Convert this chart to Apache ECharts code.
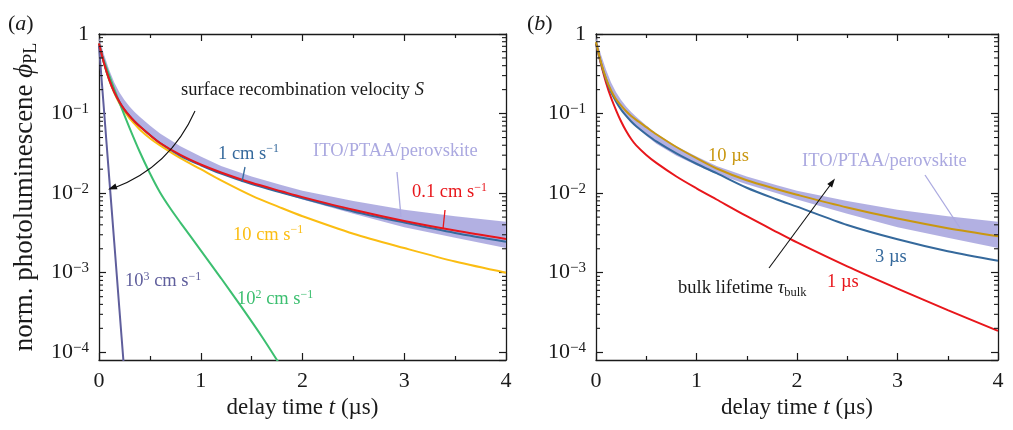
<!DOCTYPE html>
<html><head><meta charset="utf-8">
<script src="https://cdn.jsdelivr.net/npm/echarts@6/dist/echarts.min.js"></script>
<style>html,body{margin:0;padding:0;background:#fff}#c{width:1013px;height:430px}</style>
</head><body><div id="c"></div>
<script>
// ---------------- data ----------------
// panel (a): surface recombination velocity
const tA      = [0,0.05,0.1,0.15,0.2,0.25,0.3,0.35,0.4,0.5,0.6,0.8,1.0,1.2,1.5,1.8,2.0,2.5,3.0,3.5,4.0];
const aS01    = [0.759,0.427,0.269,0.186,0.141,0.112,0.0933,0.0794,0.0692,0.0537,0.0427,0.0302,0.0229,0.0182,0.0135,0.0105,0.00891,0.00617,0.00447,0.00339,0.00266];
const aS1     = [0.759,0.427,0.269,0.186,0.141,0.112,0.0933,0.0794,0.0692,0.0537,0.0427,0.0295,0.0224,0.0176,0.0130,0.0101,0.00861,0.00589,0.00427,0.00316,0.00245];
const aS10    = [0.759,0.427,0.263,0.182,0.135,0.107,0.0871,0.0741,0.0631,0.0490,0.0398,0.0275,0.0200,0.0145,0.00933,0.00646,0.00513,0.00309,0.00204,0.00138,0.00100];
const tA100   = [0,0.05,0.1,0.2,0.3,0.4,0.5,0.6,0.7,0.8,1.0,1.2,1.4,1.6,1.8];
const aS100   = [0.708,0.457,0.302,0.138,0.0661,0.0331,0.0178,0.0102,0.00646,0.00427,0.00191,0.000851,0.000372,0.000158,0.0000631];
const tA1000  = [0,0.05,0.1,0.15,0.2,0.25];
const aS1000  = [0.708,0.107,0.0158,0.0024,0.000355,0.0000537];
// panel (b): bulk lifetime
const tB      = [0,0.05,0.1,0.15,0.2,0.25,0.3,0.35,0.4,0.5,0.6,0.8,1.0,1.2,1.5,1.8,2.0,2.5,3.0,3.5,4.0];
const bTau1   = [0.759,0.417,0.245,0.158,0.110,0.0794,0.0603,0.0479,0.0398,0.0302,0.0240,0.0162,0.0115,0.00832,0.00513,0.00324,0.00240,0.00120,0.000631,0.000339,0.000186];
const bTau3   = [0.759,0.427,0.269,0.186,0.141,0.112,0.0933,0.0794,0.0692,0.0550,0.0447,0.0316,0.0234,0.0178,0.0117,0.00832,0.00676,0.00398,0.00263,0.00186,0.00141];
const bTau10  = [0.794,0.437,0.275,0.195,0.151,0.126,0.107,0.0933,0.0832,0.0676,0.0550,0.0380,0.0275,0.0204,0.0145,0.0112,0.00955,0.00661,0.00479,0.00363,0.00288];
// measured ITO/PTAA/perovskite transient (envelope of the noisy trace)
const tData     = [0,0.05,0.1,0.15,0.2,0.25,0.3,0.35,0.4,0.5,0.6,0.8,1.0,1.2,1.5,1.8,2.0,2.5,3.0,3.5,4.0];
const dataUpper = [0.912,0.550,0.355,0.245,0.186,0.148,0.123,0.105,0.0912,0.0708,0.0562,0.0389,0.0288,0.0219,0.0162,0.0126,0.0107,0.00794,0.00617,0.00513,0.00437];
const dataLower = [0.724,0.417,0.263,0.182,0.138,0.110,0.0912,0.0776,0.0676,0.0525,0.0417,0.0295,0.0224,0.0174,0.0129,0.0100,0.00832,0.00550,0.00372,0.00275,0.00204];
// axis ranges / ticks
const xMin = 0, xMax = 4, xInterval = 1;
const yMin = 8e-5, yMax = 1;

// ---------------- styling ----------------
const FONT = 'Liberation Serif';
const AX = '#1a1a1a';
const C = {red:'#e8161b', blue:'#35699c', yellow:'#fbbd12', gold:'#c99710', green:'#3cbf70', purple:'#5f5e9c', lav:'#aba9e0'};

const minorVals = [];
for (let e = -4; e <= -1; e++) for (let k = 2; k <= 9; k++) minorVals.push(k * Math.pow(10, e));

function xAxes() {
  const base = {type:'value', min:xMin, max:xMax, interval:xInterval,
    axisLine:{show:true, onZero:false, lineStyle:{color:AX, width:1.3}},
    axisTick:{show:true, inside:true, length:7, lineStyle:{color:AX, width:1.2}},
    minorTick:{show:true, splitNumber:2, length:4, lineStyle:{color:AX, width:1.2}},
    splitLine:{show:false}, minorSplitLine:{show:false}};
  return [
    Object.assign({}, base, {position:'bottom',
      axisLabel:{fontFamily:FONT, fontSize:22, color:AX, margin:10},
      name:'delay time {i|t} (µs)', nameLocation:'middle', nameGap:34,
      nameTextStyle:{fontFamily:FONT, fontSize:23, color:AX,
        rich:{i:{fontFamily:FONT, fontSize:23, fontStyle:'italic', color:AX}}}}),
    Object.assign({}, base, {position:'top', axisLabel:{show:false}})
  ];
}
function yLabel(v) {
  const l = Math.log10(v), n = Math.round(l);
  if (Math.abs(l - n) > 0.01) return '';
  if (n === 0) return '{b|1}';
  return '{b|10}{s|−' + (-n) + '}';
}
function yAxes(withName) {
  const base = {type:'log', logBase:10, min:yMin, max:yMax,
    axisLine:{show:true, onZero:false, lineStyle:{color:AX, width:1.3}},
    axisTick:{show:true, inside:true, length:7, lineStyle:{color:AX, width:1.2}},
    minorTick:{show:false}, splitLine:{show:false}};
  const left = Object.assign({}, base, {position:'left',
    axisLabel:{formatter:yLabel, margin:10, showMinLabel:false,
      rich:{b:{fontFamily:FONT, fontSize:22, color:AX, lineHeight:24},
            s:{fontFamily:FONT, fontSize:15, color:AX, verticalAlign:'top', lineHeight:14}}}});
  if (withName) Object.assign(left, {
    name:'norm. photoluminescene {i|ϕ}{sub|PL}', nameLocation:'middle', nameGap:59, nameRotate:90,
    nameTextStyle:{fontFamily:FONT, fontSize:27, color:AX,
      rich:{i:{fontFamily:FONT, fontSize:27, fontStyle:'italic', color:AX, lineHeight:30},
            sub:{fontFamily:FONT, fontSize:18, color:AX, verticalAlign:'bottom', lineHeight:16}}}});
  const right = Object.assign({}, base, {position:'right', axisLabel:{show:false}});
  return [left, right];
}
function lineS(xi, T, V, color, z) {
  return {type:'line', xAxisIndex:xi, yAxisIndex:xi, data:T.map((t,i)=>[t, V[i]]),
    symbol:'none', showSymbol:false, smooth:0.3, clip:true, silent:true, z:z,
    lineStyle:{color:color, width:2}};
}
function bandS(xi) {
  return {type:'custom', xAxisIndex:xi, yAxisIndex:xi, silent:true, clip:true, z:1,
    data:[[tData[0], dataUpper[0]]],
    renderItem:(params, api) => {
      const pts = [];
      for (let i = 0; i < tData.length; i++) pts.push(api.coord([tData[i], dataUpper[i]]));
      for (let i = tData.length - 1; i >= 0; i--) pts.push(api.coord([tData[i], dataLower[i]]));
      return {type:'polygon', shape:{points:pts}, style:{fill:C.lav, opacity:0.92}};
    }};
}
function minorS(xi) {
  return {type:'custom', xAxisIndex:xi, yAxisIndex:xi, silent:true, clip:false, z:10,
    data:minorVals.map(v => [xMin, v]),
    renderItem:(params, api) => {
      const v = api.value(1);
      const p0 = api.coord([xMin, v]), p1 = api.coord([xMax, v]);
      return {type:'group', children:[
        {type:'line', shape:{x1:p0[0], y1:p0[1], x2:p0[0]+4, y2:p0[1]}, style:{stroke:AX, lineWidth:1.1}},
        {type:'line', shape:{x1:p1[0], y1:p1[1], x2:p1[0]-4, y2:p1[1]}, style:{stroke:AX, lineWidth:1.1}}
      ]};
    }};
}

// ---------------- annotations ----------------
const AF = 18.5;
function rich(color) {
  return {
    n:{fill:color, fontFamily:FONT, fontSize:AF, lineHeight:22},
    p:{fill:color, fontFamily:FONT, fontSize:22, lineHeight:24},
    pi:{fill:color, fontFamily:FONT, fontSize:22, fontStyle:'italic', lineHeight:24},
    i:{fill:color, fontFamily:FONT, fontSize:AF, fontStyle:'italic', lineHeight:22},
    sup:{fill:color, fontFamily:FONT, fontSize:12, verticalAlign:'top', lineHeight:12},
    sub:{fill:color, fontFamily:FONT, fontSize:12.5, verticalAlign:'bottom', lineHeight:12}
  };
}
function txt(x, cy, text, color, size) {
  return {type:'text', x:x, y:cy, silent:true, z:100,
    style:{text:text, fill:color, fontFamily:FONT, fontSize:size || AF, align:'left', verticalAlign:'middle', rich:rich(color)}};
}
function seg(x1, y1, x2, y2, color, w) {
  return {type:'line', silent:true, z:100, shape:{x1, y1, x2, y2}, style:{stroke:color, lineWidth:w || 1}};
}
function head(fx, fy, tx, ty, color) {
  const a = Math.atan2(ty - fy, tx - fx), len = 9, w = 6;
  const bx = tx - len*Math.cos(a), by = ty - len*Math.sin(a);
  const px = -Math.sin(a)*w/2, py = Math.cos(a)*w/2;
  return {type:'polygon', silent:true, z:101, shape:{points:[[tx,ty],[bx+px,by+py],[bx-px,by-py]]}, style:{fill:color}};
}
const graphics = [
  // panel labels
  txt(8, 24, '{p|(}{pi|a}{p|)}', AX, 22),
  txt(527, 24, '{p|(}{pi|b}{p|)}', AX, 22),
  // panel (a)
  txt(181, 90, '{n|surface recombination velocity }{i|S}', AX),
  {type:'bezierCurve', silent:true, z:100, shape:{x1:195, y1:111, x2:114, y2:188, cpx1:170, cpy1:167}, style:{stroke:'#111', lineWidth:1.1, fill:null}},
  head(170, 167, 108, 189.5, '#111'),
  txt(218, 154, '{n|1 cm s}{sup|−1}', C.blue),
  seg(245, 167, 242, 182, C.blue, 1.3),
  txt(313, 151, 'ITO/PTAA/perovskite', C.lav),
  seg(397, 172, 401, 217, C.lav, 1.3),
  txt(412, 192.5, '{n|0.1 cm s}{sup|−1}', C.red),
  seg(445, 210, 443, 229, C.red, 1.3),
  txt(233, 235, '{n|10 cm s}{sup|−1}', C.yellow),
  txt(125, 281.5, '{n|10}{sup|3}{n| cm s}{sup|−1}', C.purple),
  txt(237, 299.5, '{n|10}{sup|2}{n| cm s}{sup|−1}', C.green),
  // panel (b)
  txt(708, 156, '10 µs', C.gold),
  txt(802, 161, 'ITO/PTAA/perovskite', C.lav),
  seg(925, 175, 960, 228, C.lav, 1.3),
  seg(769, 268, 831, 184, '#111', 1.1),
  head(769, 268, 835, 178.5, '#111'),
  txt(678, 288.5, '{n|bulk lifetime }{i|τ}{sub|bulk}', AX),
  txt(875, 257.5, '3 µs', C.blue),
  txt(827, 282.5, '1 µs', C.red)
];

const xs = [...xAxes(), ...xAxes()].map((a, i) => Object.assign(a, {gridIndex: i < 2 ? 0 : 1}));
const ys = [...yAxes(true), ...yAxes(false)].map((a, i) => Object.assign(a, {gridIndex: i < 2 ? 0 : 1}));

const chart = echarts.init(document.getElementById('c'), null, {renderer:'canvas'});
chart.setOption({
  animation:false,
  backgroundColor:'#fff',
  grid:[
    {left:99, right:507, top:34, bottom:70},
    {left:596, right:15, top:34, bottom:70}
  ],
  xAxis:xs,
  yAxis:ys,
  series:[
    // panel a (axis index 0)
    bandS(0),
    lineS(0, tA, aS10, C.yellow, 3),
    lineS(0, tA100, aS100, C.green, 3),
    lineS(0, tA1000, aS1000, C.purple, 3),
    lineS(0, tA, aS1, C.blue, 4),
    lineS(0, tA, aS01, C.red, 5),
    minorS(0),
    // panel b (axis index 2)
    bandS(2),
    lineS(2, tB, bTau1, C.red, 3),
    lineS(2, tB, bTau3, C.blue, 4),
    lineS(2, tB, bTau10, C.gold, 5),
    minorS(2)
  ],
  graphic:graphics
});
</script>
</body></html>
